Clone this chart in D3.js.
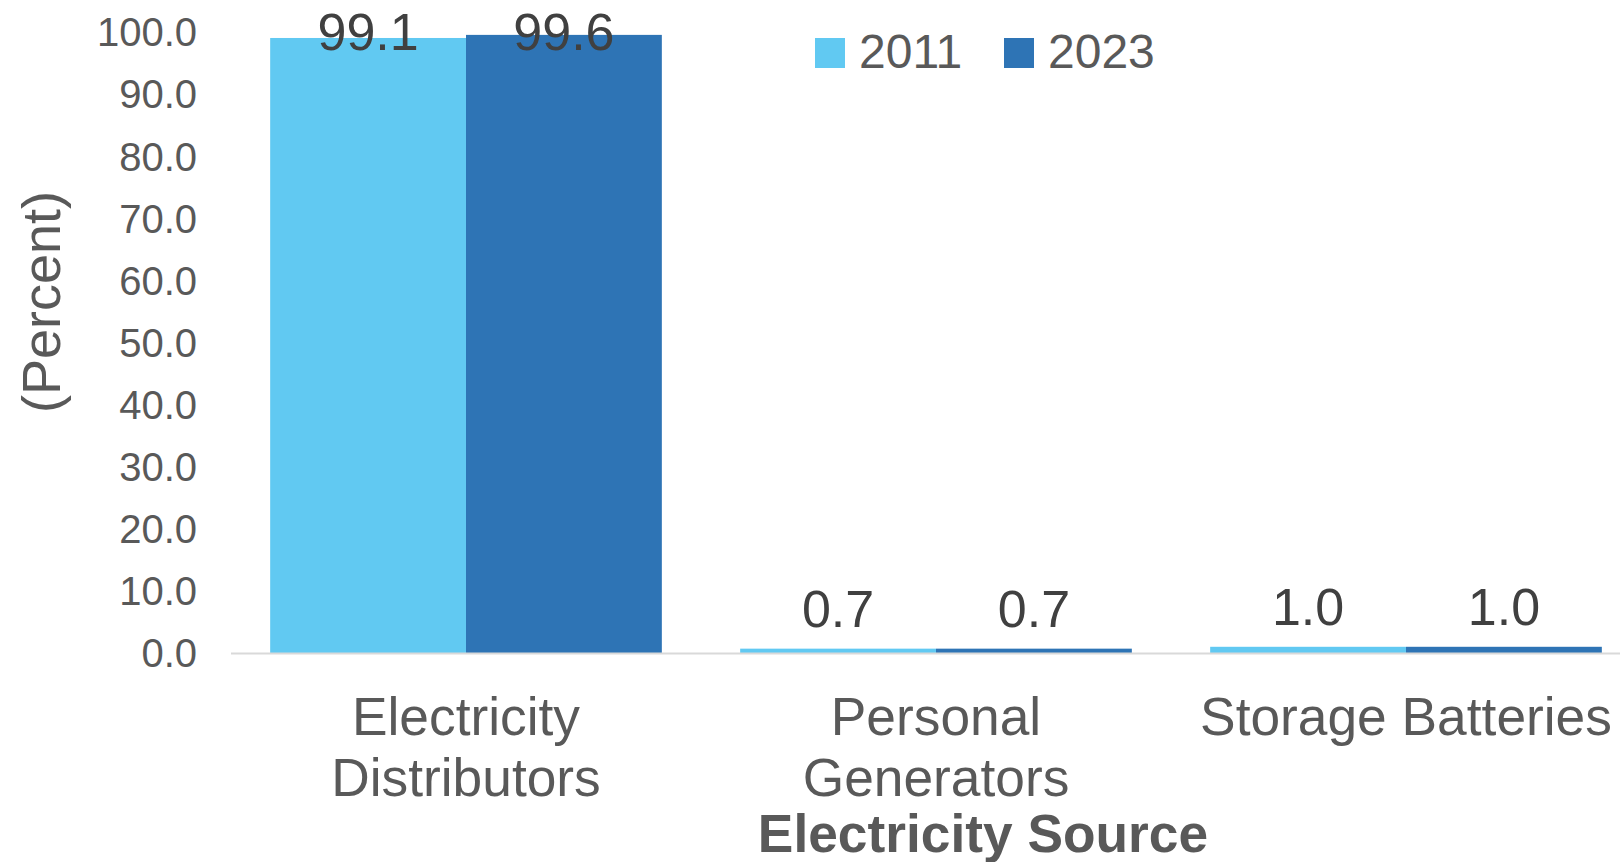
<!DOCTYPE html>
<html>
<head>
<meta charset="utf-8">
<script src="https://cdn.jsdelivr.net/npm/d3@7"></script>
<style>
  html, body { margin: 0; padding: 0; background: #ffffff; }
  svg { display: block; }
</style>
</head>
<body>
<svg id="chart" width="1620" height="862"></svg>
<script>
// ---- data ----
const categories = ["Electricity Distributors", "Personal Generators", "Storage Batteries"];
const categoryLines = [["Electricity", "Distributors"], ["Personal", "Generators"], ["Storage Batteries"]];
const series = ["2011", "2023"];
const values2011 = [99.1, 0.7, 1.0];
const values2023 = [99.6, 0.7, 1.0];
const yTicks = [0, 10, 20, 30, 40, 50, 60, 70, 80, 90, 100];
const xTitle = "Electricity Source";
const yTitle = "(Percent)";

const colors = { "2011": "#61C9F2", "2023": "#2E74B5" };
const valuesBySeries = { "2011": values2011, "2023": values2023 };

const svg = d3.select("#chart");
const font = "'Liberation Sans', Arial, sans-serif";

const y = d3.scaleLinear().domain([0, 100]).range([653, 32.4]);
const x0 = d3.scaleBand().domain(categories).range([231, 1641]).paddingInner(0).paddingOuter(0);
const x1 = d3.scaleBand().domain(series).range([0, x0.bandwidth()]).paddingInner(0).paddingOuter(0.2);

// y axis labels
const yAxis = d3.axisLeft(y).tickValues(yTicks).tickSize(0).tickPadding(0).tickFormat(d3.format(".1f"));
const gy = svg.append("g").attr("transform", "translate(197,0)").call(yAxis);
gy.select(".domain").remove();
gy.selectAll("text")
  .attr("font-family", font)
  .attr("font-size", 40)
  .attr("fill", "#595959")
  .attr("x", 0)
  .attr("dy", 13.5)
  .attr("text-anchor", "end");

// bars
const groups = svg.append("g").selectAll("g")
  .data(categories)
  .join("g")
  .attr("transform", d => `translate(${x0(d)},0)`);

groups.selectAll("rect")
  .data((d, i) => series.map(s => ({ s, v: valuesBySeries[s][i] })))
  .join("rect")
  .attr("x", d => x1(d.s))
  .attr("width", x1.bandwidth())
  .attr("y", d => y(d.v))
  .attr("height", d => y(0) - y(d.v))
  .attr("fill", d => colors[d.s]);

// x axis line
svg.append("line")
  .attr("x1", 231).attr("x2", 1620)
  .attr("y1", y(0) + 0.5).attr("y2", y(0) + 0.5)
  .attr("stroke", "#D9D9D9").attr("stroke-width", 2);

// value labels
groups.selectAll("text.val")
  .data((d, i) => series.map(s => ({ s, v: valuesBySeries[s][i] })))
  .join("text")
  .attr("class", "val")
  .attr("x", d => x1(d.s) + x1.bandwidth() / 2)
  .attr("y", d => Math.max(y(d.v) - 22, 50))
  .attr("text-anchor", "middle")
  .attr("font-family", font)
  .attr("font-size", 52)
  .attr("fill", "#404040")
  .text(d => d3.format(".1f")(d.v));

// category labels
const catG = svg.append("g");
categories.forEach((c, i) => {
  const t = catG.append("text")
    .attr("x", x0(c) + x0.bandwidth() / 2)
    .attr("y", 735)
    .attr("text-anchor", "middle")
    .attr("font-family", font)
    .attr("font-size", 53.3)
    .attr("fill", "#595959");
  categoryLines[i].forEach((line, j) => {
    t.append("tspan")
      .attr("x", x0(c) + x0.bandwidth() / 2)
      .attr("dy", j === 0 ? 0 : 61)
      .text(line);
  });
});

// x axis title
svg.append("text")
  .attr("x", 983).attr("y", 852)
  .attr("text-anchor", "middle")
  .attr("font-family", font)
  .attr("font-size", 53.3)
  .attr("font-weight", "bold")
  .attr("fill", "#595959")
  .text(xTitle);

// y axis title
svg.append("text")
  .attr("transform", "translate(60,302) rotate(-90)")
  .attr("text-anchor", "middle")
  .attr("font-family", font)
  .attr("font-size", 54)
  .attr("fill", "#595959")
  .text(yTitle);

// legend
const legendX = [815, 1004];
const legend = svg.append("g");
series.forEach((s, i) => {
  legend.append("rect")
    .attr("x", legendX[i]).attr("y", 38)
    .attr("width", 30).attr("height", 30)
    .attr("fill", colors[s]);
  legend.append("text")
    .attr("x", legendX[i] + 44).attr("y", 68)
    .attr("font-family", font)
    .attr("font-size", 48)
    .attr("fill", "#595959")
    .text(s);
});
</script>
</body>
</html>
